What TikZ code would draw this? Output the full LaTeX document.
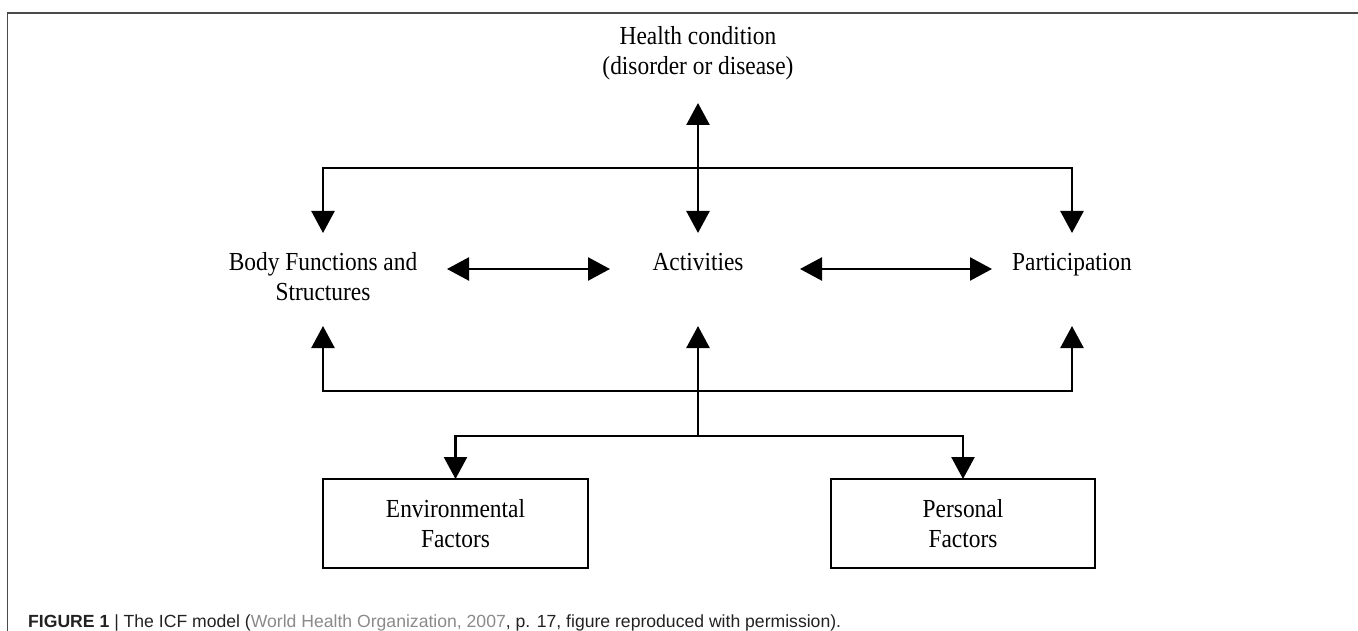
\documentclass[tikz,border=0pt]{standalone}
\usepackage{fontspec}
\usetikzlibrary{arrows.meta}
\newfontfamily\dfont[FakeStretch=0.9]{Liberation Serif}
\newfontfamily\capfont{Liberation Sans}
\definecolor{capgray}{HTML}{8A8A8A}
\definecolor{captext}{HTML}{222222}
\definecolor{framegray}{HTML}{4A4A4A}
\begin{document}
\begin{tikzpicture}[x=1pt,y=-1pt,
  lbl/.style={font=\dfont\fontsize{26}{30}\selectfont, align=center, inner sep=0pt, outer sep=0pt},
  onelbl/.style={lbl, anchor=base, text height=38pt, text depth=55pt},
  factorbox/.style={lbl, draw, line width=2.5pt, minimum width=265pt, minimum height=89pt},
  conn/.style={line width=2.5pt, -{Triangle[length=22pt,width=23pt]}},
  dconn/.style={line width=2.5pt, {Triangle[length=22pt,width=23pt]}-{Triangle[length=22pt,width=23pt]}}
]
\useasboundingbox (0,0) rectangle (1358,631);
% frame
\draw[line width=1.5pt, framegray] (1358,13) -- (7.5,13) -- (7.5,631);

% nodes
\node[lbl, minimum height=100pt] (health) at (698,53) {Health condition\\(disorder or disease)};
\node[lbl, minimum height=93pt, minimum width=248pt] (body) at (323,277) {Body Functions and\\Structures};
\node[onelbl, minimum width=188pt] (act) at (698,271) {Activities};
\node[onelbl, minimum width=160pt] (part) at (1072,271) {Participation};
\node[factorbox] (env) at (455.5,523.5) {Environmental\\Factors};
\node[factorbox, minimum width=264pt] (pers) at (963,523.5) {Personal\\Factors};

% junction coordinates
\coordinate (hb) at (698,168);
\coordinate (bb) at (698,391);
\coordinate (lb) at (698,436);

% connectors
\draw[dconn] (health.south) -- (act.north);
\draw[conn] (hb) -| ([yshift=-2.5pt]body.north);
\draw[conn] (hb) -| (part.north);
\draw[dconn] ([yshift=8pt]body.east) -- ([xshift=6pt,yshift=10.5pt]act.west);
\draw[dconn] ([xshift=8pt,yshift=10.5pt]act.east) -- ([yshift=10.5pt]part.west);
\draw[conn] (bb) -| ([yshift=-2.5pt]body.south);
\draw[conn] (bb) -| (part.south);
\draw[conn] (lb) -- (act.south);
\draw[conn] (lb) -| (env.north);
\draw[conn] (lb) -| (pers.north);

% caption
\node[anchor=base west, inner sep=0pt, text=captext, font=\capfont\fontsize{17.6}{20}\selectfont] (cap) at (28,627)
  {\textbf{FIGURE 1} | The ICF model (\textcolor{capgray}{World Health Organization, 2007}, p. 17, figure reproduced with permission).};
\end{tikzpicture}
\end{document}
